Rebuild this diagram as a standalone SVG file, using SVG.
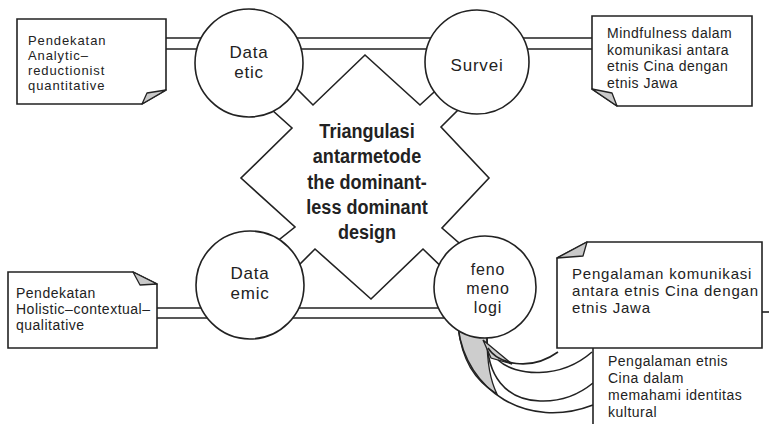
<svg xmlns="http://www.w3.org/2000/svg" width="769" height="424" viewBox="0 0 769 424">
<style>
.ln{fill:none;stroke:#222;stroke-width:1.6}
.sh{fill:#fff;stroke:#222;stroke-width:1.6;stroke-linejoin:miter}
.fold{fill:#c9c9c9;stroke:#222;stroke-width:1.3;stroke-linejoin:round}
.gr{fill:#cdcdcd;stroke:#222;stroke-width:1.3}
.t{font-family:"Liberation Sans",Arial,sans-serif;font-size:14px;fill:#222;letter-spacing:0.5px}
.ts{font-family:"Liberation Sans",Arial,sans-serif;font-size:13px;fill:#222;letter-spacing:0.9px}
.t2{font-family:"Liberation Sans",Arial,sans-serif;font-size:15px;fill:#222;letter-spacing:0.8px}
.c{font-family:"Liberation Sans",Arial,sans-serif;font-size:17px;fill:#222;text-anchor:middle;letter-spacing:0.8px}
.c3{font-family:"Liberation Sans",Arial,sans-serif;font-size:16px;fill:#222;text-anchor:middle;letter-spacing:0.9px}
.b{font-family:"Liberation Sans",Arial,sans-serif;font-size:21px;font-weight:bold;fill:#222;text-anchor:middle}
</style>
<rect width="769" height="424" fill="#fff"/>
<g id="connectors">
  <path class="ln" d="M166,38 H592 M166,49 H592"/>
  <path class="ln" d="M157,308 H445 M157,318 H445"/>
  <path class="gr" d="M458,327 C462,360 474,380 497,394 C490,380 487,360 487,338 Z"/>
  <path class="ln" d="M458,327 C466,392 528,430 593,405"/>
  <path class="ln" d="M487,338 C487,375 505,400 540,401 C565,402 582,392 593,383"/>
  <path class="gr" d="M483,340 L491,358 L512,364 Z"/>
  <path class="ln" d="M488,348 C498,364 530,372 558,352"/>
  <path class="ln" d="M498,360 C515,376 560,380 592,352"/>
</g>
<g id="node-triangulasi">
  <polygon class="sh" points="365,55 420,105 445,82 466,102 441,127 489,178 442,228 467,250 452,277 423,249 371,299 315,249 288,276 270,247 295,227 241,178 292,128 262,101 285,77 313,105"/>
  <g transform="translate(367,0) scale(0.86,1)">
    <text class="b" x="0" y="138">Triangulasi</text>
    <text class="b" x="0" y="163">antarmetode</text>
    <text class="b" x="0" y="189">the dominant-</text>
    <text class="b" x="0" y="214">less dominant</text>
    <text class="b" x="0" y="239">design</text>
  </g>
</g>
<g id="node-data-etic">
  <circle class="sh" cx="249" cy="63" r="54"/>
  <text class="c" x="249" y="58">Data</text>
  <text class="c" x="249" y="78">etic</text>
</g>
<g id="node-survei">
  <circle class="sh" cx="477" cy="62" r="52"/>
  <text class="c" x="477" y="71">Survei</text>
</g>
<g id="node-data-emic">
  <circle class="sh" cx="250" cy="285" r="54"/>
  <text class="c" x="250" y="279">Data</text>
  <text class="c" x="250" y="299">emic</text>
</g>
<g id="node-fenomenologi">
  <circle class="sh" cx="485" cy="287" r="51"/>
  <text class="c3" x="488" y="275">feno</text>
  <text class="c3" x="488" y="294">meno</text>
  <text class="c3" x="488" y="313">logi</text>
</g>
<g id="box-analytic">
  <path class="sh" d="M17,19 H166 V90 L142,104 H17 Z"/>
  <path class="fold" d="M166,90 L147,93 L142,104 Z"/>
  <text class="ts" x="28" y="45">Pendekatan</text>
  <text class="ts" x="28" y="60">Analytic–</text>
  <text class="ts" x="28" y="75">reductionist</text>
  <text class="ts" x="28" y="90">quantitative</text>
</g>
<g id="box-mindfulness">
  <path class="sh" d="M592,16 H752 V106 H617 L592,89 Z"/>
  <path class="fold" d="M592,89 L612,93 L617,106 Z"/>
  <text class="t" x="607" y="38">Mindfulness dalam</text>
  <text class="t" x="607" y="54.5">komunikasi antara</text>
  <text class="t" x="607" y="71">etnis Cina dengan</text>
  <text class="t" x="607" y="87.5">etnis Jawa</text>
</g>
<g id="box-holistic">
  <path class="sh" d="M8,272 H133 L157,284 V348 H8 Z"/>
  <path class="fold" d="M133,272 L140,285 L157,284 Z"/>
  <text class="t" x="16" y="298">Pendekatan</text>
  <text class="t" x="16" y="314">Holistic–contextual–</text>
  <text class="t" x="16" y="330">qualitative</text>
</g>
<g id="box-pengalaman-etnis">
  <rect class="sh" x="593" y="312" width="200" height="150"/>
  <text class="t" x="608" y="366">Pengalaman etnis</text>
  <text class="t" x="608" y="383">Cina dalam</text>
  <text class="t" x="608" y="400">memahami identitas</text>
  <text class="t" x="608" y="417">kultural</text>
</g>
<g id="box-pengalaman-komunikasi">
  <path class="sh" d="M587,242 H762 V348 H557 V258 Z"/>
  <path class="fold" d="M557,258 L587,242 L583,256 Z"/>
  <text class="t2" x="572" y="279">Pengalaman komunikasi</text>
  <text class="t2" x="572" y="296">antara etnis Cina dengan</text>
  <text class="t2" x="572" y="313">etnis Jawa</text>
</g>
</svg>
